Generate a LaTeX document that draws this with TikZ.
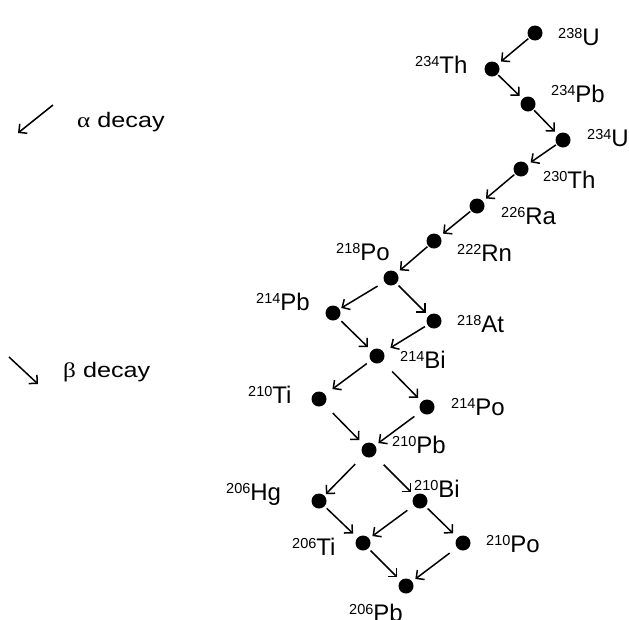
\documentclass[tikz,border=0pt]{standalone}
\usepackage{fontspec}
\setmainfont{Liberation Sans}
\newfontfamily\greekfont{Liberation Serif}
\usetikzlibrary{arrows.meta}

% isotope label: small mass number raised to cap height, then the symbol
\newcommand\iso[2]{\raisebox{6.9pt}{\fontsize{14.5}{14.5}\selectfont #1}#2}

\tikzset{
  dot/.style={circle, fill=black, inner sep=0pt, minimum size=15pt},
  isolabel/.style={anchor=base west, inner sep=0pt, font=\fontsize{24}{24}\selectfont},
  decay/.style={draw, line width=1.5pt, -{Straight Barb[length=6pt,width=12pt]},
                shorten <=1pt, shorten >=4pt},
  legendtext/.style={anchor=base west, inner sep=0pt, font=\fontsize{21}{21}\selectfont}
}

\begin{document}
\begin{tikzpicture}[x=1pt, y=-1pt]
\useasboundingbox (0,0) rectangle (629,619);

% nuclides of the decay chain
\node[dot] (U238)  at (535, 33) {};
\node[dot] (Th234) at (492, 69) {};
\node[dot] (Pb234) at (528,104) {};
\node[dot] (U234)  at (563,140) {};
\node[dot] (Th230) at (521,169) {};
\node[dot] (Ra226) at (477,206) {};
\node[dot] (Rn222) at (434,241) {};
\node[dot] (Po218) at (391,278) {};
\node[dot] (Pb214) at (333,313) {};
\node[dot] (At218) at (434,321) {};
\node[dot] (Bi214) at (377,356) {};
\node[dot] (Ti210) at (319,399) {};
\node[dot] (Po214) at (427,407) {};
\node[dot] (Pb210) at (369,450) {};
\node[dot] (Hg206) at (319,501) {};
\node[dot] (Bi210) at (420,501) {};
\node[dot] (Ti206) at (363,543) {};
\node[dot] (Po210) at (463,543) {};
\node[dot] (Pb206) at (406,586) {};

% labels
\node[isolabel] (lU238)  at (558, 45) {\iso{238}{U}};
\node[isolabel] (lTh234) at (415, 73) {\iso{234}{Th}};
\node[isolabel] (lPb234) at (551,102) {\iso{234}{Pb}};
\node[isolabel] (lU234)  at (587,146) {\iso{234}{U}};
\node[isolabel] (lTh230) at (543,188) {\iso{230}{Th}};
\node[isolabel] (lRa226) at (501,224) {\iso{226}{Ra}};
\node[isolabel] (lRn222) at (457,261) {\iso{222}{Rn}};
\node[isolabel] (lPo218) at (336,260) {\iso{218}{Po}};
\node[isolabel] (lPb214) at (256,310) {\iso{214}{Pb}};
\node[isolabel] (lAt218) at (457,332) {\iso{218}{At}};
\node[isolabel] (lBi214) at (400,368) {\iso{214}{Bi}};
\node[isolabel] (lTi210) at (248,403) {\iso{210}{Ti}};
\node[isolabel] (lPo214) at (451,415) {\iso{214}{Po}};
\node[isolabel] (lPb210) at (392,453) {\iso{210}{Pb}};
\node[isolabel] (lHg206) at (226,500) {\iso{206}{Hg}};
\node[isolabel] (lBi210) at (414,497) {\iso{210}{Bi}};
\node[isolabel] (lTi206) at (292,555) {\iso{206}{Ti}};
\node[isolabel] (lPo210) at (486,552) {\iso{210}{Po}};
\node[isolabel] (lPb206) at (349,621) {\iso{206}{Pb}};

% decays
\draw[decay] (U238) -- (Th234);
\draw[decay] (Th234) -- (Pb234);
\draw[decay] (Pb234) -- (U234);
\draw[decay] (U234) -- (Th230);
\draw[decay] (Th230) -- (Ra226);
\draw[decay] (Ra226) -- (Rn222);
\draw[decay] (Rn222) -- (Po218);
\draw[decay, shorten <=8pt, shorten >=2pt] (Po218) -- (Pb214);
\draw[decay, shorten <=3pt] (Po218) -- (At218);
\draw[decay, shorten <=4pt, shorten >=5pt] (Pb214) -- (Bi214);
\draw[decay, shorten <=3pt, shorten >=8pt] (At218) -- (Bi214);
\draw[decay, shorten <=5pt, shorten >=9pt] (Bi214) -- (Ti210);
\draw[decay, shorten <=14pt, shorten >=5pt] (Bi214) -- (Po214);
\draw[decay, shorten <=12pt, shorten >=6pt] (Ti210) -- (Pb210);
\draw[decay, shorten <=8pt, shorten >=4pt] (Po214) -- (Pb210);
\draw[decay, shorten <=12pt, shorten >=2pt] (Pb210) -- (Hg206);
\draw[decay, shorten <=13pt, shorten >=5pt] (Pb210) -- (Bi210);
\draw[decay, shorten <=3pt, shorten >=6pt] (Hg206) -- (Ti206);
\draw[decay, shorten <=8pt, shorten >=4pt] (Bi210) -- (Ti206);
\draw[decay, shorten <=3pt, shorten >=6pt] (Bi210) -- (Po210);
\draw[decay, shorten <=3pt, shorten >=5pt] (Ti206) -- (Pb206);
\draw[decay, shorten <=9pt, shorten >=4pt] (Po210) -- (Pb206);

% legend
\coordinate (alphaA) at (53,105);
\coordinate (alphaB) at (18,133);
\draw[decay, shorten <=0pt, shorten >=0pt] (alphaA) -- (alphaB);
\node[legendtext] (alphatext) at (77,127)
  {\scalebox{1.2}[1]{{\greekfont α} decay}};

\coordinate (betaA) at (9,357);
\coordinate (betaB) at (38,384);
\draw[decay, shorten <=0pt, shorten >=0pt] (betaA) -- (betaB);
\node[legendtext] (betatext) at (63,377)
  {\scalebox{1.2}[1]{{\greekfont β} decay}};
\end{tikzpicture}
\end{document}
